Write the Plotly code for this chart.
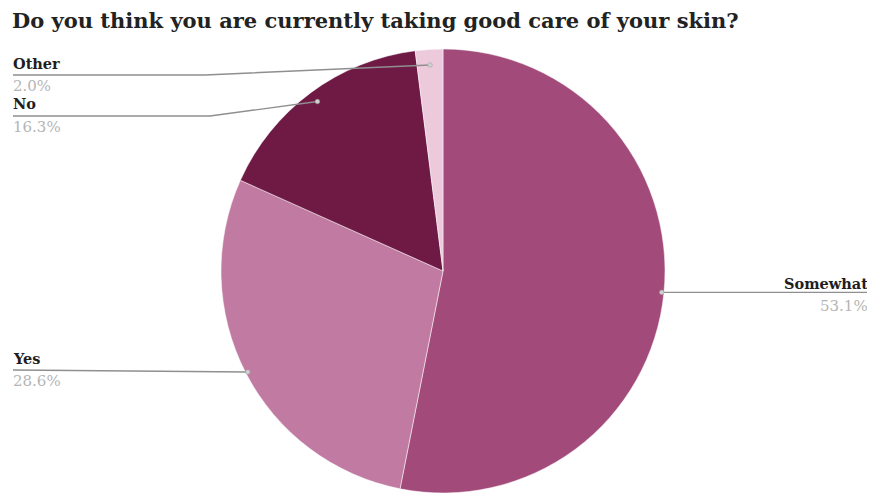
import math
import plotly.graph_objects as go

# ---- data ----
labels = ["Somewhat", "Yes", "No", "Other"]
values = [53.1, 28.6, 16.3, 2.0]
colors = ["#a24b7a", "#c17ba2", "#6f1a45", "#ecc9db"]
title_text = "Do you think you are currently taking good care of your skin?"

# the page body has an 8px margin, so the figure is offset by 8px
OFF = 8
W, H = 875 - OFF, 493 - OFF
def px(x):
    return (x - OFF) / W
def py(y):
    return 1 - (y - OFF) / H

# pie geometry (target pixels)
cx, cy, R = 443, 271, 222

fig = go.Figure(go.Pie(
    labels=labels, values=values, sort=False, direction="clockwise", rotation=0,
    marker=dict(colors=colors, line=dict(color="white", width=0.5)),
    textinfo="none", hoverinfo="label+percent", showlegend=False,
    domain=dict(x=[px(cx - R), px(cx + R)], y=[max(0, py(cy + R)), py(cy - R)]),
))

label_pos = {
    "Other":    dict(tx=13, ty=63, side="left", ly=75, elbow=205, rf=0.93),
    "No":       dict(tx=13, ty=104, side="left", ly=116, elbow=210, rf=0.95),
    "Yes":      dict(tx=13, ty=358, side="left", ly=370, elbow=None, rf=0.99),
    "Somewhat": dict(tx=870, ty=283, side="right", ly=293, elbow=None, rf=0.99),
}

total = sum(values)
cum = 0.0
shapes = []
annotations = []
for lab, val in zip(labels, values):
    mid = (cum + val / 2) / total * 2 * math.pi
    cum += val
    p = label_pos[lab]
    dx = cx + math.sin(mid) * R * p["rf"]
    dy = cy - math.cos(mid) * R * p["rf"]
    if p["side"] == "left":
        x_end = 13
        if p["elbow"] is None:
            path = f"M {px(x_end)},{py(p['ly'])} L {px(dx)},{py(dy)}"
        else:
            path = (f"M {px(x_end)},{py(p['ly'])} L {px(p['elbow'])},{py(p['ly'])} "
                    f"L {px(dx)},{py(dy)}")
        xanchor = "left"
        xs = -2
    else:
        path = f"M {px(dx)},{py(dy)} L {px(874)},{py(dy)}"
        xanchor = "right"
        xs = 0
    shapes.append(dict(type="path", xref="paper", yref="paper", path=path,
                       line=dict(color="#8f8f8f", width=1.4)))
    r = 2.3
    shapes.append(dict(type="circle", xref="paper", yref="paper",
                       x0=px(dx - r), x1=px(dx + r), y0=py(dy + r), y1=py(dy - r),
                       fillcolor="#d0d0d0", line=dict(color="#9a9a9a", width=0.5)))
    annotations.append(dict(x=px(p["tx"]), y=py(p["ty"]), xref="paper", yref="paper",
                            text=f"<b>{lab}</b>", showarrow=False, xanchor=xanchor,
                            yanchor="middle", xshift=xs,
                            font=dict(family="DejaVu Serif", size=14.5, color="#1e1e1e")))
    annotations.append(dict(x=px(p["tx"]), y=py(p["ty"] + 23), xref="paper", yref="paper",
                            text=f"{val:.1f}%", showarrow=False, xanchor=xanchor,
                            yanchor="middle", xshift=xs,
                            font=dict(family="DejaVu Serif", size=15, color="#b5b5b5")))

annotations.append(dict(x=px(12), y=py(20), xref="paper", yref="paper", text=f"<b>{title_text}</b>",
                        showarrow=False, xanchor="left", yanchor="middle", xshift=-2,
                        font=dict(family="DejaVu Serif", size=21, color="#222222")))

fig.update_layout(
    width=W, height=H, margin=dict(l=0, r=0, t=0, b=0),
    paper_bgcolor="white", plot_bgcolor="white",
    shapes=shapes, annotations=annotations,
)

fig.write_html("out.html")
